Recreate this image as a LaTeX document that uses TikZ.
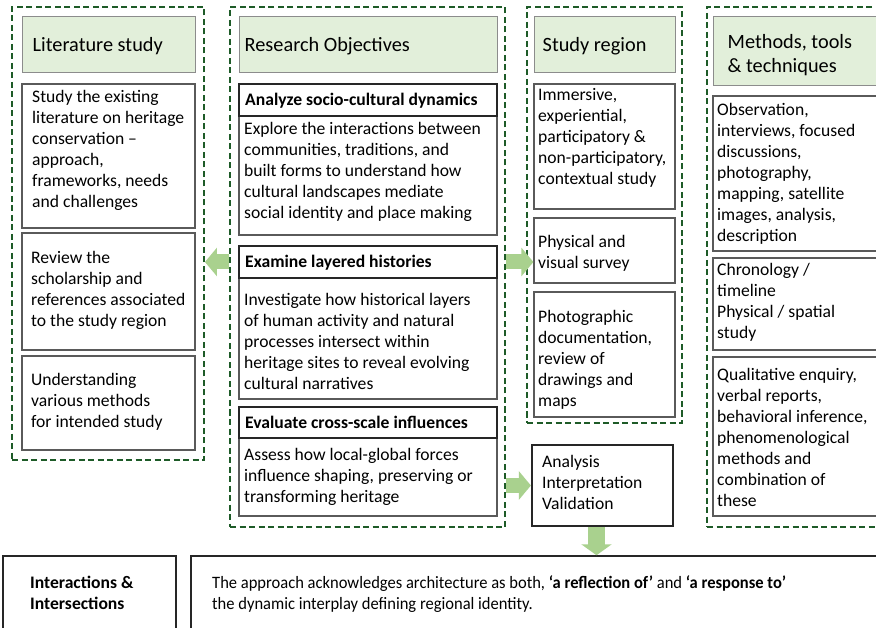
\documentclass[tikz,border=0pt]{standalone}
\usepackage{fontspec}
\setmainfont{Carlito}
\newfontfamily\narrowfont[FakeStretch=0.95]{Carlito}
\usetikzlibrary{arrows.meta,fit}

\definecolor{frameGreen}{HTML}{1E5B28}
\definecolor{headFill}{HTML}{E2EFDA}
\definecolor{headLine}{HTML}{8C8C8C}
\definecolor{cellLine}{HTML}{5A5A5A}
\definecolor{flowGreen}{HTML}{A9D18E}

\newcommand\bodyfont{\fontsize{17.6}{21}\selectfont}
\newcommand\headfont{\fontsize{20.3}{24}\selectfont}
\newcommand\footfont{\narrowfont\fontsize{17.4}{21.5}\selectfont}

\tikzset{
  frame/.style={draw=frameGreen, line width=1.9pt, dash pattern=on 6pt off 3.5pt, inner sep=0pt},
  headbox/.style={draw=headLine, fill=headFill, line width=1pt, inner sep=0pt},
  cell/.style={draw=cellLine, line width=1.2pt, fill=white, inner sep=0pt},
  titlecell/.style={draw=black!85, line width=1.6pt, fill=white, inner sep=0pt},
  keybox/.style={draw=black!85, line width=2.2pt, fill=white, inner sep=0pt},
  headtxt/.style={anchor=west, inner sep=0pt, font=\headfont, align=left},
  txt/.style={anchor=north west, inner sep=0pt, font=\bodyfont, align=left},
  foottxt/.style={anchor=north west, inner sep=0pt, font=\footfont, align=left},
  flow/.style={draw=flowGreen, line width=15pt, -{Triangle[length=12pt,width=28pt]}},
}

\begin{document}
\begin{tikzpicture}[x=1pt,y=-1pt]
\useasboundingbox (0,0) rectangle (876,628);
\clip (0,0) rectangle (876,628);
\fill[white] (0,0) rectangle (876,628);

% dashed column frames
\node[frame, fit={(12,7) (204,460)}] (litF) {};
\node[frame, fit={(230,7) (505,527)}] (resF) {};
\node[frame, fit={(527,7) (682,423)}] (regF) {};
\node[frame, fit={(707,7) (900,527)}] (metF) {};

% column headings
\node[headbox, fit={(22,17) (195,73)}] (litH) {};
\node[headbox, fit={(239,17) (497,73)}] (resH) {};
\node[headbox, fit={(534,17) (675,73)}] (regH) {};
\node[headbox, fit={(713,17) (900,86)}] (metH) {};
\node[headtxt] (litHt) at ([xshift=11pt,yshift=-1pt]litH.west) {Literature study};
\node[headtxt] (resHt) at ([xshift=6pt,yshift=-1pt]resH.west) {Research Objectives};
\node[headtxt] (regHt) at ([xshift=9pt,yshift=-1pt]regH.west) {Study region};
\node[headtxt] (metHt) at ([xshift=15pt,yshift=-4pt]metH.west) {Methods, tools\\ \& techniques};

% literature study
\node[cell, fit={(22,84) (195,228)}] (lit1) {};
\node[cell, fit={(22,233) (195,350)}] (lit2) {};
\node[cell, fit={(22,356) (195,450)}] (lit3) {};
\node[txt] (lit1t) at (32,87.3) {\strut Study the existing\\ literature on heritage\\ conservation –\\ approach,\\ frameworks, needs\\ and challenges};
\node[txt] (lit2t) at (31,248.3) {\strut Review the\\ scholarship and\\ references associated\\ to the study region};
\node[txt] (lit3t) at (31,370.3) {\strut Understanding\\ various methods\\ for intended study};

% research objectives
\node[cell, fit={(239,116) (497,235)}] (r1b) {};
\node[titlecell, fit={(239,84) (497,116)}] (r1h) {};
\node[cell, fit={(239,278) (497,399)}] (r2b) {};
\node[titlecell, fit={(239,246) (497,278)}] (r2h) {};
\node[cell, fit={(239,438) (497,516)}] (r3b) {};
\node[titlecell, fit={(239,407) (497,438)}] (r3h) {};
\node[txt, font=\bodyfont\bfseries] (r1ht) at (245,90.3) {\strut Analyze socio-cultural dynamics};
\node[txt] (r1bt) at (244,119.3) {\strut Explore the interactions between\\ communities, traditions, and\\ built forms to understand how\\ cultural landscapes mediate\\ social identity and place making};
\node[txt, font=\bodyfont\bfseries] (r2ht) at (245,252.3) {\strut Examine layered histories};
\node[txt] (r2bt) at (244,290.3) {\strut Investigate how historical layers\\ of human activity and natural\\ processes intersect within\\ heritage sites to reveal evolving\\ cultural narratives};
\node[txt, font=\bodyfont\bfseries] (r3ht) at (245,413.3) {\strut Evaluate cross-scale influences};
\node[txt] (r3bt) at (244,445.3) {\strut Assess how local-global forces\\ influence shaping, preserving or\\ transforming heritage};

% study region
\node[cell, fit={(534,84) (675,209)}] (g1) {};
\node[cell, fit={(534,218) (675,283)}] (g2) {};
\node[cell, fit={(534,292) (675,417)}] (g3) {};
\node[txt] (g1t) at (538,85.3) {\strut Immersive,\\ experiential,\\ participatory \&\\ non-participatory,\\ contextual study};
\node[txt] (g2t) at (538,232.3) {\strut Physical and\\ visual survey};
\node[txt] (g3t) at (538,307.3) {\strut Photographic\\ documentation,\\ review of\\ drawings and\\ maps};

% synthesis step
\node[keybox, fit={(532,445) (673,526)}] (anal) {};
\node[txt] (analt) at (542,452.3) {\strut Analysis\\ Interpretation\\ Validation};

% methods, tools and techniques
\node[cell, fit={(713,96) (900,251)}] (m1) {};
\node[cell, fit={(713,258) (900,350)}] (m2) {};
\node[cell, fit={(713,357) (900,516)}] (m3) {};
\node[txt] (m1t) at (717,100.3) {\strut Observation,\\ interviews, focused\\ discussions,\\ photography,\\ mapping, satellite\\ images, analysis,\\ description};
\node[txt] (m2t) at (717,260.3) {\strut Chronology /\\ timeline\\ Physical / spatial\\ study};
\node[txt] (m3t) at (717,365.3) {\strut Qualitative enquiry,\\ verbal reports,\\ behavioral inference,\\ phenomenological\\ methods and\\ combination of\\ these};

% bottom row
\node[keybox, line width=1.5pt, fit={(3,556) (176,660)}] (inter) {};
\node[keybox, line width=1.5pt, fit={(191,556) (900,660)}] (appr) {};
\node[foottxt, font=\fontsize{17.6}{21.5}\selectfont\bfseries] (intert) at (30,573) {\strut Interactions \&\\ Intersections};
\node[foottxt] (apprt) at (212,573) {\strut The approach acknowledges architecture as both, \textbf{‘a reflection of’} and \textbf{‘a response to’}\\ the dynamic interplay defining regional identity.};

% flow arrows
\draw[flow] (r2h.west -| resF.west) -- (r2h.west -| litF.east);
\draw[flow] (r2h.east -| resF.east) -- (r2h.east -| g2.west);
\draw[flow] (anal.west -| resF.east) -- (anal.west);
\draw[flow, line width=17pt, -{Triangle[length=11pt,width=30pt]}] ([xshift=-6pt]anal.south) -- ([xshift=-6pt]anal.south |- appr.north);
\end{tikzpicture}
\end{document}
